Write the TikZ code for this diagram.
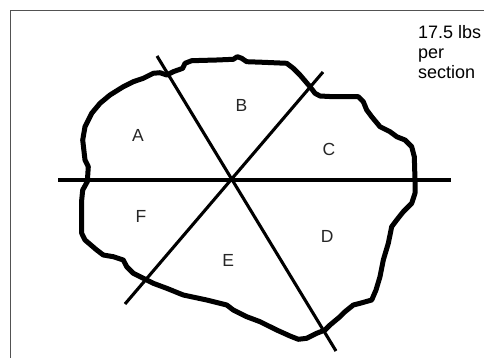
\documentclass[tikz,border=0pt]{standalone}
\usepackage{fontspec}
\setmainfont{Liberation Sans}
\begin{document}
\begin{tikzpicture}[x=1pt,y=-1pt,
  frame/.style={draw=black!68,line width=1.8pt},
  blob/.style={draw=black,line width=5pt,line join=round,line cap=round},
  cutline/.style={draw=black,line width=3.1pt},
  lbl/.style={font=\fontsize{17.5}{20}\selectfont,inner sep=0pt,text=black!85},
  note/.style={font=\fontsize{18}{20}\selectfont,inner sep=0pt,align=left,anchor=north west}]
\useasboundingbox (0,0) rectangle (484,358);
\fill[white] (0,0) rectangle (484,358);
\draw[frame] (10.5,10.5) rectangle (520,390);
% outline
\draw[blob] (166.7,75) -- (173.3,71.7) -- (182.7,68.3) -- (185,63.3) -- (191.7,60.7)
  -- (216.7,60) -- (233.3,59.3) -- (237.3,56.7) -- (241.7,58.3) -- (246.7,61.7)
  -- (263.3,62.3) -- (286.7,63.3) -- (293.3,68.3) -- (300,75) -- (310,86.7)
  -- (315,93.3) -- (320,96) -- (333.3,96.7) -- (358.3,96.7) -- (363.3,101.7)
  -- (366.7,110) -- (371.7,116.7) -- (380,126.7) -- (390,131.7) -- (396.7,136.7)
  -- (405,140) -- (411.7,146.7) -- (414.3,156.7) -- (415,180) -- (415,193.3)
  -- (411.7,203.3) -- (403.3,211.7) -- (396.7,220) -- (391.7,226.7) -- (388.3,243.3)
  -- (383.3,260) -- (380,276.7) -- (376,290) -- (371.7,300) -- (360,303.3)
  -- (353.3,305) -- (345,311.7) -- (340,316.7) -- (330,325) -- (325,330)
  -- (316.7,333.3) -- (306.7,338.3) -- (298.3,339.3) -- (290,336) -- (276.7,330)
  -- (260,321.7) -- (246.7,316.7) -- (233.3,310) -- (226.7,305) -- (206.7,300)
  -- (183.3,295) -- (166.7,288.3) -- (153.3,283.3) -- (143.3,278.3) -- (133.3,273.3)
  -- (126.7,266.7) -- (123.3,260) -- (113.3,256.7) -- (103.3,255) -- (96.7,250)
  -- (85,240) -- (81.7,233.3) -- (81.7,200) -- (82.7,190) -- (87.3,181.7)
  -- (88.3,166.7) -- (85,160) -- (82.7,140) -- (85,126.7) -- (91.7,113.3)
  -- (100,103.3) -- (110,95) -- (123.3,86.7) -- (133.3,81.7) -- (143.3,78.3)
  -- (153.3,73.3) -- (160,72.7) -- cycle;
% cut lines
\coordinate (hL) at (58,180);
\coordinate (hR) at (451,180);
\coordinate (d1a) at (157,56);
\coordinate (d1b) at (336,351);
\coordinate (d2a) at (323,72);
\coordinate (d2b) at (125,304);
\draw[cutline] (hL) -- (hR);
\draw[cutline] (d1a) -- (d1b);
\draw[cutline] (d2a) -- (d2b);
% labels
\node[lbl] (A) at (138,135) {A};
\node[lbl] (B) at (241.5,105) {B};
\node[lbl] (C) at (329,149) {C};
\node[lbl] (D) at (327.3,236.7) {D};
\node[lbl] (E) at (228.3,260) {E};
\node[lbl] (F) at (141,216) {F};
\node[note] (txt) at (418,25) {17.5 lbs\\per\\section};
\end{tikzpicture}
\end{document}
